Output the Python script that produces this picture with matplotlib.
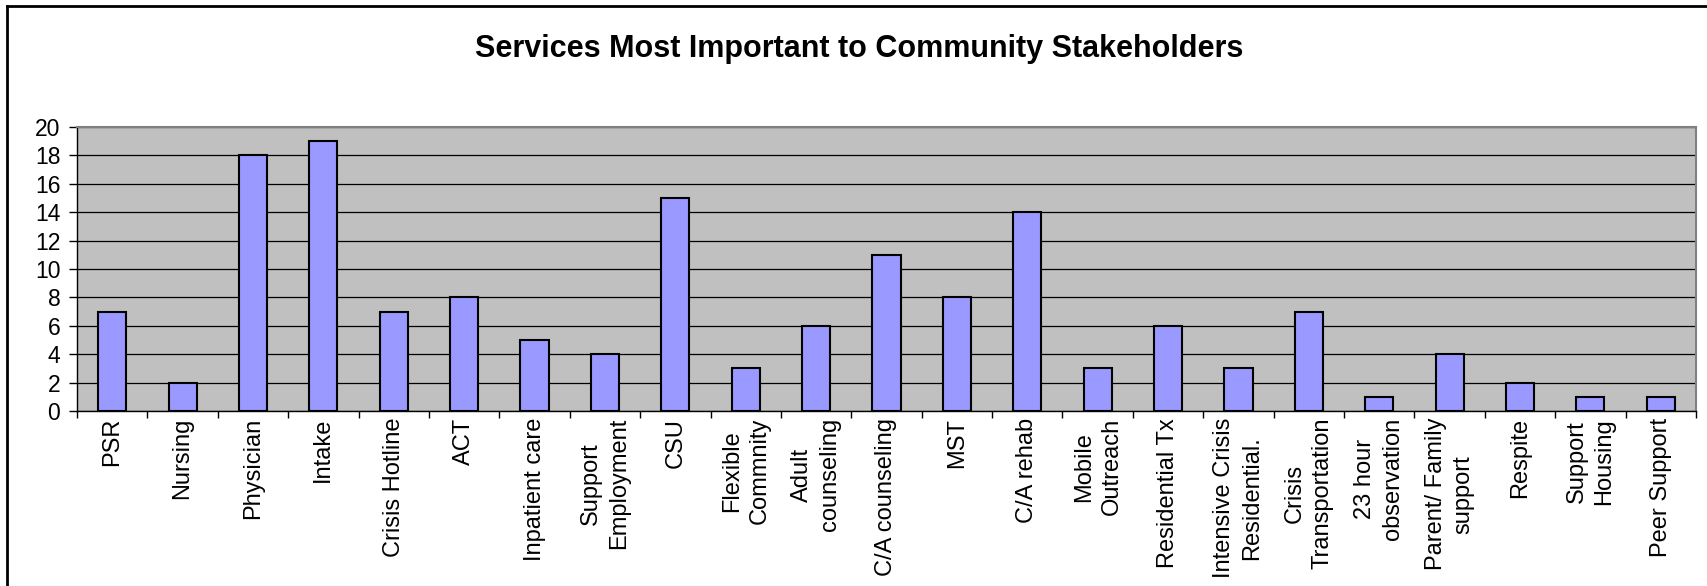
import matplotlib
matplotlib.use("Agg")
import matplotlib.pyplot as plt
from matplotlib.lines import Line2D
import numpy as np

plt.rcParams['font.family'] = ['Liberation Sans', 'DejaVu Sans']

categories = ["PSR", "Nursing", "Physician", "Intake", "Crisis Hotline", "ACT",
              "Inpatient care", "Support\nEmployment", "CSU", "Flexible\nCommnity",
              "Adult\ncounseling", "C/A counseling", "MST", "C/A rehab",
              "Mobile\nOutreach", "Residential Tx", "Intensive Crisis\nResidential.",
              "Crisis\nTransportation", "23 hour\nobservation", "Parent/ Family\nsupport",
              "Respite", "Support\nHousing", "Peer Support"]
values = [7, 2, 18, 19, 7, 8, 5, 4, 15, 3, 6, 11, 8, 14, 3, 6, 3, 7, 1, 4, 2, 1, 1]
title = "Services Most Important to Community Stakeholders"
yticks = [0, 2, 4, 6, 8, 10, 12, 14, 16, 18, 20]

fig = plt.figure(figsize=(17.07, 5.86), dpi=100)
ax = fig.add_axes([77/1707, 1-411/586, (1696-77)/1707, (411-127)/586])
ax.set_facecolor('#C0C0C0')

x = np.arange(len(categories))
ax.set_axisbelow(True)
ax.yaxis.grid(True, color='black', linewidth=0.9)
ax.bar(x, values, width=0.4, color='#9999FF', edgecolor='black', linewidth=1.5, zorder=3)

ax.set_xlim(-0.5, len(categories) - 0.5)
ax.set_ylim(0, 20)
ax.set_yticks(yticks)
ax.tick_params(axis='y', labelsize=16.5, direction='out', length=6, width=1, pad=6, color='black')

ax.set_xticks(x)
ax.set_xticklabels(categories, rotation=90, ha='center', va='top', multialignment='center',
                   fontsize=17, linespacing=1.35)
ax.set_xticks(np.arange(len(categories) + 1) - 0.5, minor=True)
ax.tick_params(axis='x', which='major', length=0, pad=5)
ax.tick_params(axis='x', which='minor', length=5, width=1, direction='out', color='black')

for s in ['top', 'right']:
    ax.spines[s].set_color('#808080')
    ax.spines[s].set_linewidth(1.5)
for s in ['left', 'bottom']:
    ax.spines[s].set_color('black')
    ax.spines[s].set_linewidth(1)

fig.text(859/1707, 1-49/586, title, ha='center', va='center', fontsize=22, fontweight='bold')

# outer chart frame (left and top visible)
fig.add_artist(Line2D([7/1707, 7/1707], [0, 1-6/586], transform=fig.transFigure, color='black', linewidth=2))
fig.add_artist(Line2D([7/1707, 1], [1-6/586, 1-6/586], transform=fig.transFigure, color='black', linewidth=2))

fig.savefig("out.png", dpi=100)
